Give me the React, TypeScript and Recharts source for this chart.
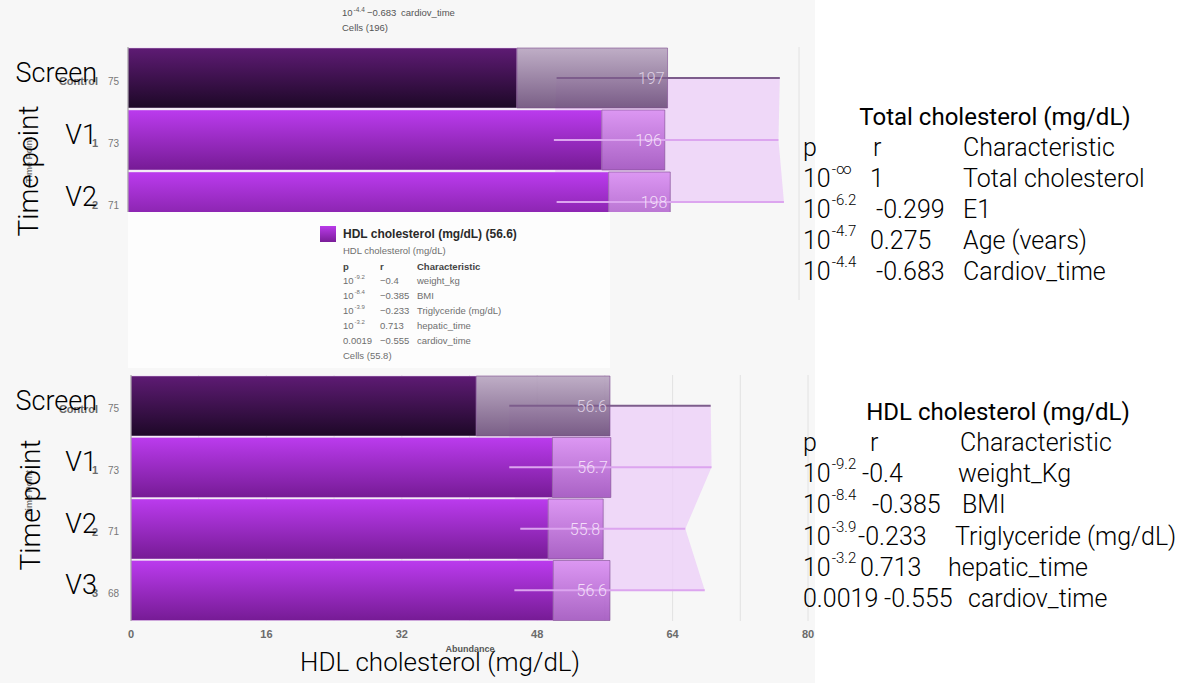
import React from 'react'
import {
  ComposedChart,
  Bar,
  Area,
  XAxis,
  YAxis,
  CartesianGrid,
  Cell,
  LabelList,
  ReferenceLine,
} from 'recharts'

// Total cholesterol (mg/dL) – top panel (cropped screenshot)
const tcTimePoints = ['Screen', 'V1', 'V2']
const tcGroups = ['Control', '1', '2']
const tcCounts = [75, 73, 71]
const tcLower = [142, 173, 175.5]
const tcMean = [197, 196, 198]
const tcWhiskerLow = [156.5, 155.5, 156.5]
const tcWhiskerHigh = [238, 237.5, 239.5]
const tcTicks = [0, 24.5, 49, 73.5, 98, 122.5, 147, 171.5, 196, 220.5, 245]

// HDL cholesterol (mg/dL) – bottom panel
const hdlTimePoints = ['Screen', 'V1', 'V2', 'V3']
const hdlGroups = ['Control', '1', '2', '3']
const hdlCounts = [75, 73, 71, 68]
const hdlLower = [40.8, 49.8, 49.3, 49.9]
const hdlMean = [56.6, 56.7, 55.8, 56.6]
const hdlWhiskerLow = [44.7, 44.7, 46, 45.3]
const hdlWhiskerHigh = [68.5, 68.6, 65.5, 67.8]
const hdlTicks = [0, 8, 16, 24, 32, 40, 48, 56, 64, 72, 80]

// correlation tables
const tcTableP = [['10', '-∞'], ['10', '-6.2'], ['10', '-4.7'], ['10', '-4.4']]
const tcTableR = ['1', '-0.299', '0.275', '-0.683']
const tcTableChar = ['Total cholesterol', 'E1', 'Age (vears)', 'Cardiov_time']

const hdlTableP = [['10', '-9.2'], ['10', '-8.4'], ['10', '-3.9'], ['10', '-3.2'], ['0.0019', '']]
const hdlTableR = ['-0.4', '-0.385', '-0.233', '0.713', '-0.555']
const hdlTableChar = ['weight_Kg', 'BMI', 'Triglyceride (mg/dL)', 'hepatic_time', 'cardiov_time']
const hdlTooltipChar = ['weight_kg', 'BMI', 'Triglyceride (mg/dL)', 'hepatic_time', 'cardiov_time']

const LIGHT = 'Roboto, "Liberation Sans", sans-serif'
const UI = '"Liberation Sans", Arial, sans-serif'

const buildRows = (
  points: string[],
  lower: number[],
  mean: number[],
  lo: number[],
  hi: number[]
) =>
  points.map((t, i) => ({
    time: t,
    lower: lower[i],
    box: +(mean[i] - lower[i]).toFixed(2),
    mean: mean[i],
    lo: lo[i],
    hi: hi[i],
    whisker: [lo[i], hi[i]],
  }))

const makeCategoryTick = (groups: string[], counts: number[]) => (props: any) => {
  const { y, payload, index } = props
  return (
    <g>
      <text x={98} y={y + 3} textAnchor="end" dominantBaseline="central" fontSize={11} fontWeight={700} fill="#6b6b6b" fontFamily={UI}>
        {groups[index]}
      </text>
      <text x={108} y={y + 3} dominantBaseline="central" fontSize={10} fill="#777" fontFamily={UI}>
        {counts[index]}
      </text>
      <text x={97} y={y - 5} textAnchor="end" dominantBaseline="central" fontSize={27} fontWeight={300} fill="#000" fontFamily={LIGHT}>
        {payload.value}
      </text>
    </g>
  )
}

const ValueLabel = (props: any) => {
  const { x, y, width, height, value, index } = props
  return (
    <text
      x={x + width - 3}
      y={y + height / 2}
      textAnchor="end"
      dominantBaseline="central"
      fill={index === 0 ? '#ddd0e3' : '#f3def9'}
      fontSize={16}
      fontWeight={300}
      fontFamily={LIGHT}
    >
      {value}
    </text>
  )
}

const HdlTick = ({ x, y, payload }: any) => {
  if (payload.value % 16 !== 0) return null
  return (
    <text x={x} y={y + 9} textAnchor="middle" fontSize={11} fontWeight={700} fill="#6b6b6b" fontFamily={UI}>
      {payload.value}
    </text>
  )
}

const Gradients = ({ p }: { p: string }) => (
  <defs>
    <linearGradient id={`${p}dark`} x1="0" y1="0" x2="0" y2="1">
      <stop offset="0%" stopColor="#5e1b74" />
      <stop offset="100%" stopColor="#1d0827" />
    </linearGradient>
    <linearGradient id={`${p}bright`} x1="0" y1="0" x2="0" y2="1">
      <stop offset="0%" stopColor="#bb3bee" />
      <stop offset="100%" stopColor="#761b95" />
    </linearGradient>
    <linearGradient id={`${p}darkBox`} x1="0" y1="0" x2="0" y2="1">
      <stop offset="0%" stopColor="#b9a6c1" />
      <stop offset="100%" stopColor="#6c4e7a" />
    </linearGradient>
    <linearGradient id={`${p}brightBox`} x1="0" y1="0" x2="0" y2="1">
      <stop offset="0%" stopColor="#da90f2" />
      <stop offset="100%" stopColor="#a255bf" />
    </linearGradient>
  </defs>
)

interface PanelProps {
  id: string
  rows: ReturnType<typeof buildRows>
  groups: string[]
  counts: number[]
  ticks: number[]
  domain: [number, number]
  height: number
  marginTop: number
  marginRight: number
  yAxisWidth: number
  showTicks: boolean
}

function Panel({ id, rows, groups, counts, ticks, domain, height, marginTop, marginRight, yAxisWidth, showTicks }: PanelProps) {
  return (
    <ComposedChart
      layout="vertical"
      width={815}
      height={height}
      data={rows}
      margin={{ top: marginTop, right: marginRight, bottom: 0, left: 0 }}
      barCategoryGap={1}
    >
      <Gradients p={id} />
      <CartesianGrid horizontal={false} stroke="#e2e2e2" />
      <XAxis
        type="number"
        domain={domain}
        ticks={ticks}
        axisLine={false}
        tickLine={false}
        tick={showTicks ? <HdlTick /> : false}
        height={showTicks ? 30 : 0}
        interval={0}
      />
      <YAxis
        type="category"
        dataKey="time"
        width={yAxisWidth}
        axisLine={{ stroke: '#9c9c9c' }}
        tickLine={false}
        tick={makeCategoryTick(groups, counts)}
        interval={0}
      />
      <Area
        dataKey="whisker"
        type="linear"
        fill="#ecd0f7"
        fillOpacity={0.8}
        stroke="none"
        isAnimationActive={false}
      />
      <Bar dataKey="lower" stackId="s" isAnimationActive={false} stroke="#e6c6f1" strokeWidth={0.5}>
        {rows.map((r, i) => (
          <Cell key={`b-${r.time}`} fill={i === 0 ? `url(#${id}dark)` : `url(#${id}bright)`} />
        ))}
      </Bar>
      <Bar dataKey="box" stackId="s" isAnimationActive={false} fillOpacity={0.9} stroke="#7c4a8e" strokeWidth={0.6}>
        {rows.map((r, i) => (
          <Cell key={`x-${r.time}`} fill={i === 0 ? `url(#${id}darkBox)` : `url(#${id}brightBox)`} />
        ))}
        <LabelList dataKey="mean" content={<ValueLabel />} />
      </Bar>
      {rows.map((r, i) => (
        <ReferenceLine
          key={`w-${r.time}`}
          segment={[
            { x: r.lo, y: r.time },
            { x: r.hi, y: r.time },
          ]}
          stroke={i === 0 ? '#7d5d8c' : '#dca5ef'}
          strokeWidth={2}
          ifOverflow="visible"
        />
      ))}
    </ComposedChart>
  )
}

const PCell = ({ x, y, p, size, sup }: { x: number; y: number; p: string[]; size: number; sup: number }) => (
  <text x={x} y={y} dominantBaseline="central">
    <tspan>{p[0]}</tspan>
    {p[1] ? (
      <tspan dx={1} dy={-size * 0.36} fontSize={sup}>
        {p[1]}
      </tspan>
    ) : null}
  </text>
)

export default function App() {
  const tcRows = buildRows(tcTimePoints, tcLower, tcMean, tcWhiskerLow, tcWhiskerHigh)
  const hdlRows = buildRows(hdlTimePoints, hdlLower, hdlMean, hdlWhiskerLow, hdlWhiskerHigh)

  // text layout of the overlaid tables
  const tcRowY = [178, 209, 240, 271]
  const tcRX = [870, 876, 870, 876]
  const hdlRowY = [473, 504, 536, 567, 598]
  const hdlRX = [862, 872, 858, 860, 884]
  const hdlCX = [958, 962, 955, 948, 968]
  const tipRowY = [280, 295, 310, 325, 340]

  return (
    <div style={{ position: 'absolute', left: 0, top: 0, width: 1182, height: 683, background: '#fff', overflow: 'hidden' }}>
      <div style={{ position: 'absolute', left: 0, top: 0, width: 815, height: 683, background: '#f7f7f7' }} />

      <div style={{ position: 'absolute', left: 0, top: 0, width: 815, height: 212, overflow: 'hidden' }}>
        <Panel
          id="tc"
          rows={tcRows}
          groups={tcGroups}
          counts={tcCounts}
          ticks={tcTicks}
          domain={[0, 245]}
          height={233}
          marginTop={47}
          marginRight={16}
          yAxisWidth={128}
          showTicks={false}
        />
      </div>

      <div style={{ position: 'absolute', left: 128, top: 212, width: 482, height: 156, background: '#fdfdfd' }} />

      <div style={{ position: 'absolute', left: 0, top: 340 }}>
        <Panel
          id="hdl"
          rows={hdlRows}
          groups={hdlGroups}
          counts={hdlCounts}
          ticks={hdlTicks}
          domain={[0, 80]}
          height={311}
          marginTop={35}
          marginRight={7}
          yAxisWidth={131}
          showTicks
        />
      </div>

      <svg width={1182} height={683} style={{ position: 'absolute', left: 0, top: 0, pointerEvents: 'none' }}>
        <defs>
          <linearGradient id="swatch" x1="0" y1="0" x2="0" y2="1">
            <stop offset="0%" stopColor="#b93be9" />
            <stop offset="100%" stopColor="#7a1d98" />
          </linearGradient>
        </defs>

        {/* remnants of the tooltip above the top panel */}
        <g fontFamily={UI} fontSize={9.5} fill="#555">
          <PCell x={342} y={12} p={tcTableP[3]} size={9.5} sup={6.5} />
          <text x={367} y={12} dominantBaseline="central">−0.683</text>
          <text x={401} y={12} dominantBaseline="central">cardiov_time</text>
          <text x={342} y={27} dominantBaseline="central">Cells (196)</text>
        </g>

        {/* time point axis titles */}
        <text transform="rotate(-90 29 160)" x={29} y={160} textAnchor="middle" dominantBaseline="central" fontSize={9} fontWeight={700} fontFamily={UI} fill="#777">
          Time Point
        </text>
        <text transform="rotate(-90 28 171)" x={28} y={171} textAnchor="middle" dominantBaseline="central" fontSize={28} fontWeight={300} fontFamily={LIGHT} fill="#000">
          Time point
        </text>
        <text transform="rotate(-90 29 493)" x={29} y={493} textAnchor="middle" dominantBaseline="central" fontSize={9} fontWeight={700} fontFamily={UI} fill="#777">
          Time Point
        </text>
        <text transform="rotate(-90 30 505)" x={30} y={505} textAnchor="middle" dominantBaseline="central" fontSize={28} fontWeight={300} fontFamily={LIGHT} fill="#000">
          Time point
        </text>
        <text x={470} y={649} textAnchor="middle" dominantBaseline="central" fontSize={9} fontWeight={700} fontFamily={UI} fill="#555">
          Abundance
        </text>
        <text x={440} y={662} textAnchor="middle" dominantBaseline="central" fontSize={26} fontWeight={300} fontFamily={LIGHT} fill="#000">
          HDL cholesterol (mg/dL)
        </text>

        {/* tooltip-style legend between the panels */}
        <rect x={320} y={226} width={16} height={16} fill="url(#swatch)" />
        <text x={343} y={234} dominantBaseline="central" fontSize={12} fontWeight={700} fontFamily={UI} fill="#2a2a2a">
          HDL cholesterol (mg/dL) ({hdlMean[0]})
        </text>
        <g fontFamily={UI} fontSize={9.5} fill="#6f6f6f">
          <text x={343} y={250} dominantBaseline="central">HDL cholesterol (mg/dL)</text>
          <g fontWeight={700} fill="#444">
            <text x={343} y={266} dominantBaseline="central">p</text>
            <text x={380} y={266} dominantBaseline="central">r</text>
            <text x={417} y={266} dominantBaseline="central">Characteristic</text>
          </g>
          {hdlTableP.map((p, i) => (
            <g key={`tip-${i}`}>
              <PCell x={343} y={tipRowY[i]} p={p} size={9.5} sup={6} />
              <text x={380} y={tipRowY[i]} dominantBaseline="central">{hdlTableR[i].replace('-', '−')}</text>
              <text x={417} y={tipRowY[i]} dominantBaseline="central">{hdlTooltipChar[i]}</text>
            </g>
          ))}
          <text x={343} y={355} dominantBaseline="central">Cells (55.8)</text>
        </g>

        {/* right-hand tables */}
        <line x1={799} y1={212} x2={799} y2={300} stroke="#e2e2e2" strokeWidth={1} />
        <g fontFamily={LIGHT} fill="#000">
          <text x={995} y={117} textAnchor="middle" dominantBaseline="central" fontSize={24} fontWeight={400}>
            Total cholesterol (mg/dL)
          </text>
          <g fontSize={25} fontWeight={300}>
            <text x={803} y={147} dominantBaseline="central">p</text>
            <text x={873} y={147} dominantBaseline="central">r</text>
            <text x={963} y={147} dominantBaseline="central">Characteristic</text>
            {tcTableP.map((p, i) => (
              <g key={`tc-${i}`}>
                <PCell x={803} y={tcRowY[i]} p={p} size={25} sup={15} />
                <text x={tcRX[i]} y={tcRowY[i]} dominantBaseline="central">{tcTableR[i]}</text>
                <text x={963} y={tcRowY[i]} dominantBaseline="central">{tcTableChar[i]}</text>
              </g>
            ))}
          </g>

          <text x={998} y={412} textAnchor="middle" dominantBaseline="central" fontSize={24} fontWeight={400}>
            HDL cholesterol (mg/dL)
          </text>
          <g fontSize={25} fontWeight={300}>
            <text x={803} y={442} dominantBaseline="central">p</text>
            <text x={870} y={442} dominantBaseline="central">r</text>
            <text x={960} y={442} dominantBaseline="central">Characteristic</text>
            {hdlTableP.map((p, i) => (
              <g key={`hdl-${i}`}>
                <PCell x={803} y={hdlRowY[i]} p={p} size={25} sup={15} />
                <text x={hdlRX[i]} y={hdlRowY[i]} dominantBaseline="central">{hdlTableR[i]}</text>
                <text x={hdlCX[i]} y={hdlRowY[i]} dominantBaseline="central">{hdlTableChar[i]}</text>
              </g>
            ))}
          </g>
        </g>
      </svg>
    </div>
  )
}
